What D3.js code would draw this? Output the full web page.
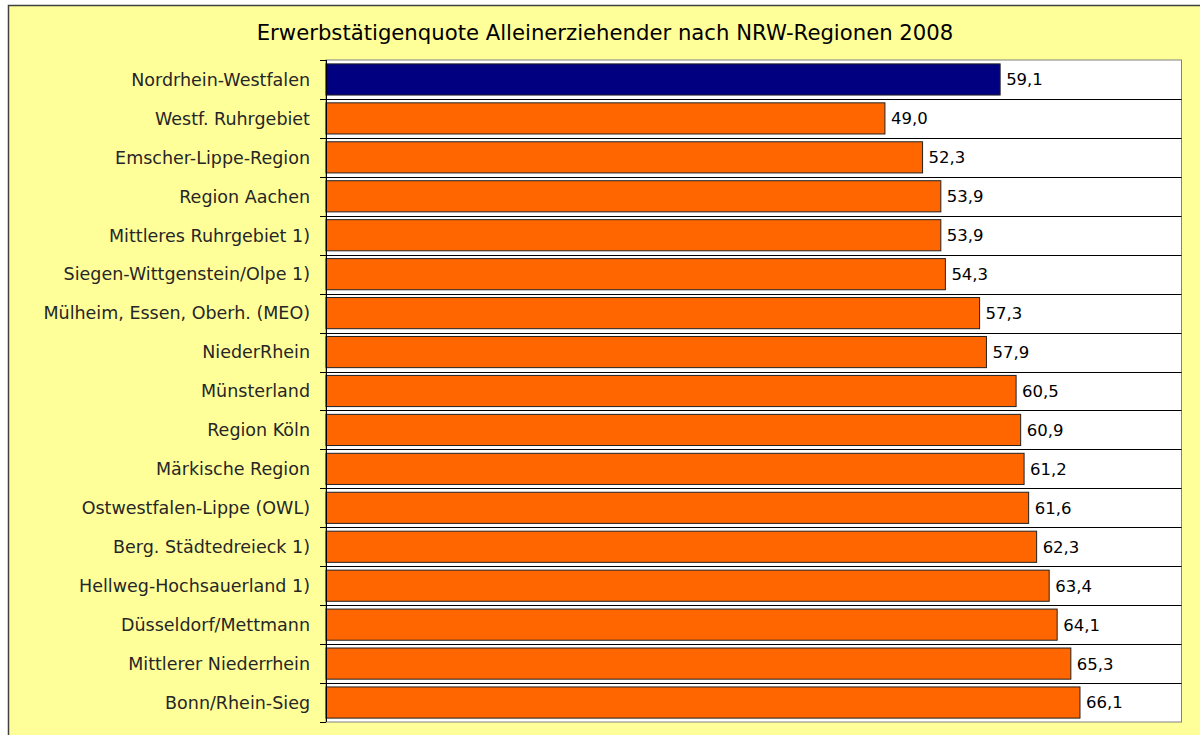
<!DOCTYPE html>
<html>
<head>
<meta charset="utf-8">
<script src="https://cdn.jsdelivr.net/npm/d3@7"></script>
<style>
  body { margin: 0; background: #ffffff; }
  svg { display: block; }
</style>
</head>
<body>
<div id="chart"></div>
<script>
// data
var regions = [
  "Nordrhein-Westfalen",
  "Westf. Ruhrgebiet",
  "Emscher-Lippe-Region",
  "Region Aachen",
  "Mittleres Ruhrgebiet 1)",
  "Siegen-Wittgenstein/Olpe 1)",
  "Mülheim, Essen, Oberh. (MEO)",
  "NiederRhein",
  "Münsterland",
  "Region Köln",
  "Märkische Region",
  "Ostwestfalen-Lippe (OWL)",
  "Berg. Städtedreieck 1)",
  "Hellweg-Hochsauerland 1)",
  "Düsseldorf/Mettmann",
  "Mittlerer Niederrhein",
  "Bonn/Rhein-Sieg"
];
var quote = [59.1, 49.0, 52.3, 53.9, 53.9, 54.3, 57.3, 57.9, 60.5, 60.9, 61.2, 61.6, 62.3, 63.4, 64.1, 65.3, 66.1];
var xDomain = [0, 75];
var chartTitle = "Erwerbstätigenquote Alleinerziehender nach NRW-Regionen 2008";

var svgWidth = 1200;
var svgHeight = 735;
var plot = { left: 326, top: 60, right: 1181.5, bottom: 722 };
var fontFam = "'DejaVu Sans', Verdana, sans-serif";

var svg = d3.select("#chart")
  .append("svg")
  .attr("width", svgWidth)
  .attr("height", svgHeight);

// chart area background with frame on top/left
svg.append("rect")
  .attr("x", 8.5)
  .attr("y", 5.5)
  .attr("width", svgWidth + 10)
  .attr("height", svgHeight + 10)
  .attr("fill", "#ffff99")
  .attr("stroke", "#404040")
  .attr("stroke-width", 1.5);

var data = regions.map(function(r, i) { return { region: r, value: quote[i] }; });

var x = d3.scaleLinear().domain(xDomain).range([plot.left, plot.right]);
var y = d3.scaleBand()
  .domain(regions)
  .range([plot.top, plot.bottom])
  .paddingInner(0.2)
  .paddingOuter(0.1);

// plot area
svg.append("rect")
  .attr("x", plot.left)
  .attr("y", plot.top)
  .attr("width", plot.right - plot.left)
  .attr("height", plot.bottom - plot.top)
  .attr("fill", "#ffffff")
  .attr("stroke", "#808080")
  .attr("stroke-width", 1);

// gridlines + ticks between categories
var step = y.step();
var bounds = d3.range(regions.length + 1).map(function(i) { return plot.top + i * step; });

svg.append("g")
  .selectAll("line")
  .data(bounds.slice(1, -1))
  .enter()
  .append("line")
  .attr("x1", plot.left)
  .attr("x2", plot.right)
  .attr("y1", function(d) { return Math.round(d) + 0.5; })
  .attr("y2", function(d) { return Math.round(d) + 0.5; })
  .attr("stroke", "#000000")
  .attr("stroke-width", 1);

svg.append("g")
  .selectAll("line")
  .data(bounds)
  .enter()
  .append("line")
  .attr("x1", plot.left - 6)
  .attr("x2", plot.left)
  .attr("y1", function(d) { return Math.round(d) + 0.5; })
  .attr("y2", function(d) { return Math.round(d) + 0.5; })
  .attr("stroke", "#000000")
  .attr("stroke-width", 1);

// bars
svg.append("g")
  .selectAll("rect")
  .data(data)
  .enter()
  .append("rect")
  .attr("x", x(0))
  .attr("y", function(d) { return y(d.region); })
  .attr("width", function(d) { return x(d.value) - x(0); })
  .attr("height", y.bandwidth())
  .attr("fill", function(d, i) { return i === 0 ? "#000080" : "#ff6600"; })
  .attr("stroke", "#222222")
  .attr("stroke-width", 1);

// axis line
svg.append("line")
  .attr("x1", plot.left + 0.5)
  .attr("x2", plot.left + 0.5)
  .attr("y1", plot.top)
  .attr("y2", plot.bottom)
  .attr("stroke", "#000000");

// category labels
var yAxis = d3.axisLeft(y).tickSize(0).tickPadding(16);
var axisG = svg.append("g")
  .attr("transform", "translate(" + plot.left + ",0)")
  .call(yAxis);
axisG.select(".domain").remove();
axisG.selectAll("text")
  .attr("font-family", fontFam)
  .attr("font-size", "17.5px")
  .attr("fill", "#262626")
  .attr("dy", "0.36em");

// value labels
svg.append("g")
  .selectAll("text")
  .data(data)
  .enter()
  .append("text")
  .attr("x", function(d) { return x(d.value) + 6; })
  .attr("y", function(d) { return y(d.region) + y.bandwidth() / 2; })
  .attr("dy", "0.36em")
  .attr("font-family", fontFam)
  .attr("font-size", "16.5px")
  .attr("fill", "#000000")
  .text(function(d) { return d3.format(".1f")(d.value).replace(".", ","); });

// title
svg.append("text")
  .attr("x", 605)
  .attr("y", 40)
  .attr("text-anchor", "middle")
  .attr("font-family", fontFam)
  .attr("font-size", "21.2px")
  .attr("fill", "#000000")
  .text(chartTitle);
</script>
</body>
</html>
